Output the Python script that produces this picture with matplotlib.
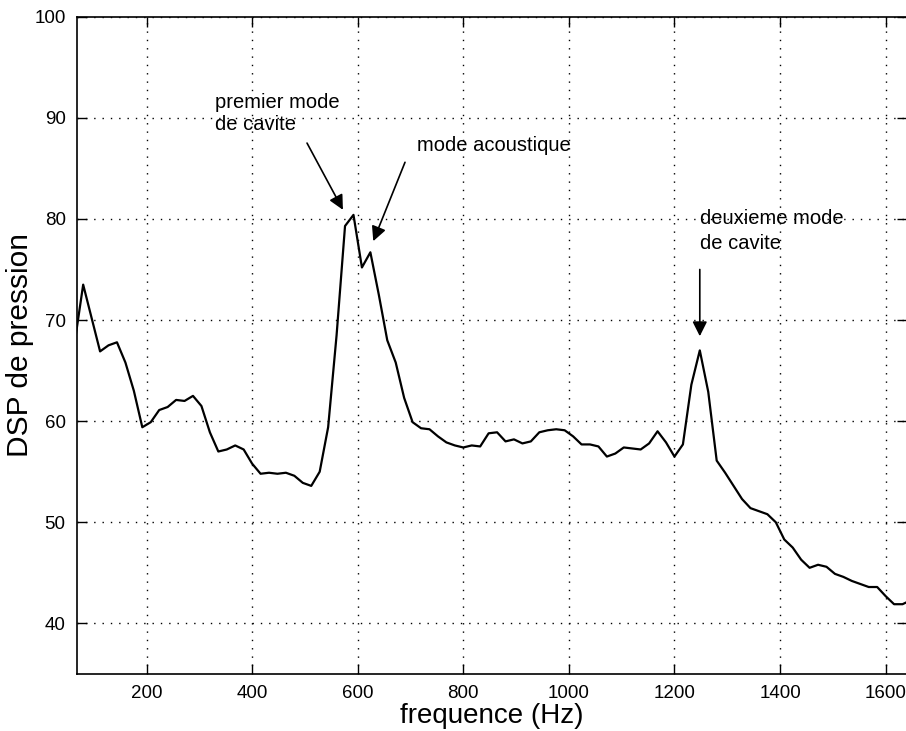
import matplotlib
matplotlib.use("Agg")
import matplotlib.pyplot as plt
import numpy as np

plt.rcParams['font.family'] = ['Liberation Sans', 'DejaVu Sans']

# Frequency axis (Hz), 16 Hz resolution
freq = [64 + 16 * i for i in range(100)]
dsp = [67.8, 73.5, 70.2, 66.9, 67.5, 67.8, 65.8, 63.0, 59.4, 59.9,
       61.1, 61.4, 62.1, 62.0, 62.5, 61.5, 58.9, 57.0, 57.2, 57.6,
       57.2, 55.8, 54.8, 54.9, 54.8, 54.9, 54.6, 53.9, 53.6, 55.0,
       59.4, 68.5, 79.3, 80.4, 75.2, 76.7, 72.5, 68.0, 65.8, 62.3,
       59.9, 59.3, 59.2, 58.5, 57.9, 57.6, 57.4, 57.6, 57.5, 58.8,
       58.9, 58.0, 58.2, 57.8, 58.0, 58.9, 59.1, 59.2, 59.1, 58.5,
       57.7, 57.7, 57.5, 56.5, 56.8, 57.4, 57.3, 57.2, 57.8, 59.0,
       57.9, 56.5, 57.7, 63.6, 67.0, 62.9, 56.1, 54.9, 53.6, 52.3,
       51.4, 51.1, 50.8, 50.0, 48.3, 47.5, 46.3, 45.5, 45.8, 45.6,
       44.9, 44.6, 44.2, 43.9, 43.6, 43.6, 42.7, 41.9, 41.9, 42.3]
freq = freq[:len(dsp)]

xticks = [200, 400, 600, 800, 1000, 1200, 1400, 1600]
yticks = [40, 50, 60, 70, 80, 90, 100]

fig = plt.figure(figsize=(9.06, 7.31), dpi=100)
# axes: left edge at 76.7 px, right edge just past the figure border
ax = fig.add_axes([0.0847, 0.078, 0.9163, 0.8992])

ax.plot(freq, dsp, color='black', lw=1.6)
ax.set_xlim(67.8, 1640.3)
ax.set_ylim(35, 100)
ax.set_xticks(xticks)
ax.set_yticks(yticks)
ax.tick_params(direction='in', length=7, width=1, top=True, right=True,
               labelsize=13.5, pad=8)
ax.grid(True, color='black', linestyle=(0, (1, 5)), linewidth=1)
for s in ['left', 'bottom', 'top']:
    ax.spines[s].set_linewidth(1.2)
ax.spines['right'].set_visible(False)

ax.set_xlabel('frequence (Hz)', fontsize=20, labelpad=1)
ax.set_ylabel('DSP de pression', fontsize=21.5, labelpad=0)

fs = 14.5
ax.text(330, 91.7, 'premier mode', fontsize=fs, va='center_baseline', ha='left')
ax.text(330, 89.5, 'de cavite', fontsize=fs, va='center_baseline', ha='left')
ax.text(712, 87.5, 'mode acoustique', fontsize=fs, va='center_baseline', ha='left')
ax.text(1248, 80.2, 'deuxieme mode', fontsize=fs, va='center_baseline', ha='left')
ax.text(1248, 77.8, 'de cavite', fontsize=fs, va='center_baseline', ha='left')

ap = dict(arrowstyle='-|>', color='black', lw=1.2, mutation_scale=22, shrinkA=0, shrinkB=0)
ax.annotate('', xy=(572, 80.9), xytext=(504, 87.5), arrowprops=ap)
ax.annotate('', xy=(629.5, 77.8), xytext=(689.6, 85.6), arrowprops=ap)
ax.annotate('', xy=(1248, 68.4), xytext=(1248, 75.0), arrowprops=ap)

fig.savefig('out.png', dpi=100)
